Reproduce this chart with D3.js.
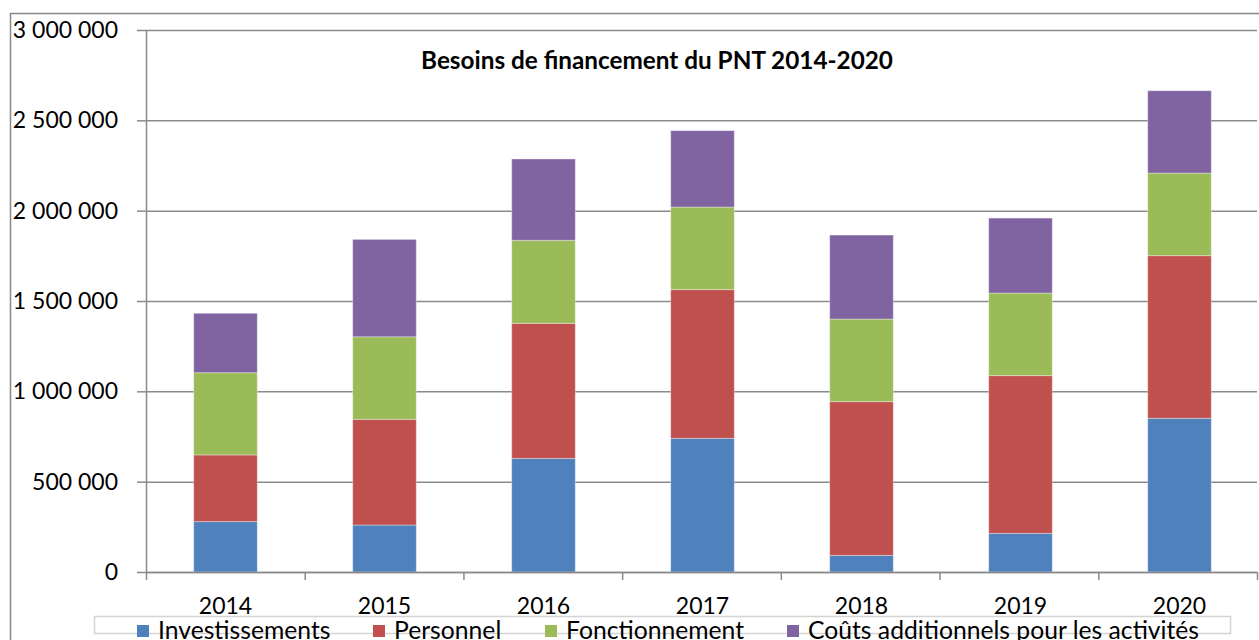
<!DOCTYPE html>
<html>
<head>
<meta charset="utf-8">
<script src="https://d3js.org/d3.v7.min.js"></script>
<style>
body { margin: 0; background: #fff; overflow: hidden; }
text { font-family: Lato, "Open Sans", sans-serif; fill: #000; }
</style>
</head>
<body>
<svg id="chart"></svg>
<script>
// categories
var years = ["2014", "2015", "2016", "2017", "2018", "2019", "2020"];

// series values
var investissements   = [279000, 260000, 629000, 740000,  92000, 214000, 851000];
var personnel         = [369000, 585000, 747000, 823000, 851000, 873000, 900000];
var fonctionnement    = [455000, 457000, 460000, 457000, 457000, 457000, 457000];
var coutsAdditionnels = [329000, 539000, 450000, 423000, 465000, 415000, 456000];

var seriesNames = ["Investissements", "Personnel", "Fonctionnement", "Coûts additionnels pour les activités"];
var colors = ["#4F81BD", "#C0504D", "#9BBB59", "#8064A2"];

// y-axis tick values
var yTicks = [0, 500000, 1000000, 1500000, 2000000, 2500000, 3000000];

var titleText = "Besoins de financement du PNT 2014-2020";

drawChart();

function drawChart() {
    var svgWidth = 1259, svgHeight = 640;
    var plot = { left: 146, right: 1259, top: 30, bottom: 572 };

    var svg = d3.select("#chart")
        .attr("width", svgWidth)
        .attr("height", svgHeight);

    // outer chart border (right and bottom fall outside the picture)
    svg.append("rect")
        .attr("x", 10.5).attr("y", 13.5)
        .attr("width", 1300).attr("height", 700)
        .attr("fill", "#fff")
        .attr("stroke", "#898989")
        .attr("stroke-width", 1.5);

    // build rows for d3.stack
    var keys = ["inv", "pers", "fonc", "couts"];
    var rows = years.map(function(y, i) {
        return { year: y, inv: investissements[i], pers: personnel[i], fonc: fonctionnement[i], couts: coutsAdditionnels[i] };
    });
    var stacked = d3.stack().keys(keys)(rows);

    var x = d3.scaleBand()
        .domain(years)
        .range([plot.left, plot.right])
        .paddingInner(0.6)
        .paddingOuter(0.3);

    var y = d3.scaleLinear()
        .domain([0, 3000000])
        .range([plot.bottom, plot.top]);

    var locale = d3.formatLocale({ decimal: ",", thousands: " ", grouping: [3], currency: ["", " €"] });
    var fmt = locale.format(",");

    // gridlines
    var grid = svg.append("g")
        .attr("transform", "translate(" + plot.left + ",0)")
        .call(d3.axisLeft(y).tickValues(yTicks).tickSize(-(plot.right - 2 - plot.left)).tickFormat(""));
    grid.select(".domain").remove();
    grid.selectAll("line").attr("stroke", "#8a8a8a").attr("stroke-width", 1.5);

    // y axis with labels
    var yAxis = svg.append("g")
        .attr("transform", "translate(" + plot.left + ",0)")
        .call(d3.axisLeft(y).tickValues(yTicks).tickSize(9).tickPadding(19).tickFormat(fmt).tickSizeOuter(0));
    yAxis.select(".domain").attr("stroke", "#8a8a8a").attr("stroke-width", 1.5);
    yAxis.selectAll("line").attr("stroke", "#8a8a8a").attr("stroke-width", 1.5);
    yAxis.selectAll("text").style("font-size", "23px").attr("fill", "#000");

    // stacked bars
    svg.append("g").selectAll("g")
        .data(stacked)
        .join("g")
        .attr("fill", function(d, i) { return colors[i]; })
        .selectAll("rect")
        .data(function(d) { return d; })
        .join("rect")
        .attr("x", function(d) { return x(d.data.year); })
        .attr("y", function(d) { return y(d[1]); })
        .attr("width", x.bandwidth())
        .attr("height", function(d) { return y(d[0]) - y(d[1]); })
        .attr("stroke", "rgba(255,255,255,0.35)")
        .attr("stroke-width", 1);

    // x axis: boundary ticks between categories
    var idx = d3.scaleLinear().domain([0, years.length]).range([plot.left, plot.right - 2]);
    var xTicks = svg.append("g")
        .attr("transform", "translate(0," + plot.bottom + ")")
        .call(d3.axisBottom(idx).tickValues(d3.range(years.length + 1)).tickSize(8).tickFormat("").tickSizeOuter(0));
    xTicks.select(".domain").attr("stroke", "#8a8a8a").attr("stroke-width", 1.5);
    xTicks.selectAll("line").attr("stroke", "#8a8a8a").attr("stroke-width", 1.5);

    // x axis labels
    var xAxis = svg.append("g")
        .attr("transform", "translate(0," + plot.bottom + ")")
        .call(d3.axisBottom(x).tickSize(0));
    xAxis.select(".domain").remove();
    xAxis.selectAll("text")
        .attr("y", 42).attr("dy", null)
        .style("font-size", "23px")
        .attr("fill", "#000");

    // title
    svg.append("text")
        .attr("x", 657)
        .attr("y", 69)
        .attr("text-anchor", "middle")
        .style("font-size", "24.3px")
        .style("font-weight", "bold")
        .text(titleText);

    // legend box
    svg.append("rect")
        .attr("x", 94.5).attr("y", 616.5)
        .attr("width", 1136).attr("height", 17)
        .attr("fill", "#fff")
        .attr("stroke", "#d4d4d4")
        .attr("stroke-width", 1.5);

    var legendX = [137, 373, 545, 787]; // left edge of each legend swatch
    var legend = svg.append("g").selectAll("g")
        .data(seriesNames)
        .join("g")
        .attr("transform", function(d, i) { return "translate(" + legendX[i] + ",0)"; });
    legend.append("rect")
        .attr("y", 625).attr("width", 12).attr("height", 12)
        .attr("fill", function(d, i) { return colors[i]; });
    legend.append("text")
        .attr("x", 21).attr("y", 639)
        .style("font-size", "24.7px")
        .text(function(d) { return d; });
}
</script>
</body>
</html>
